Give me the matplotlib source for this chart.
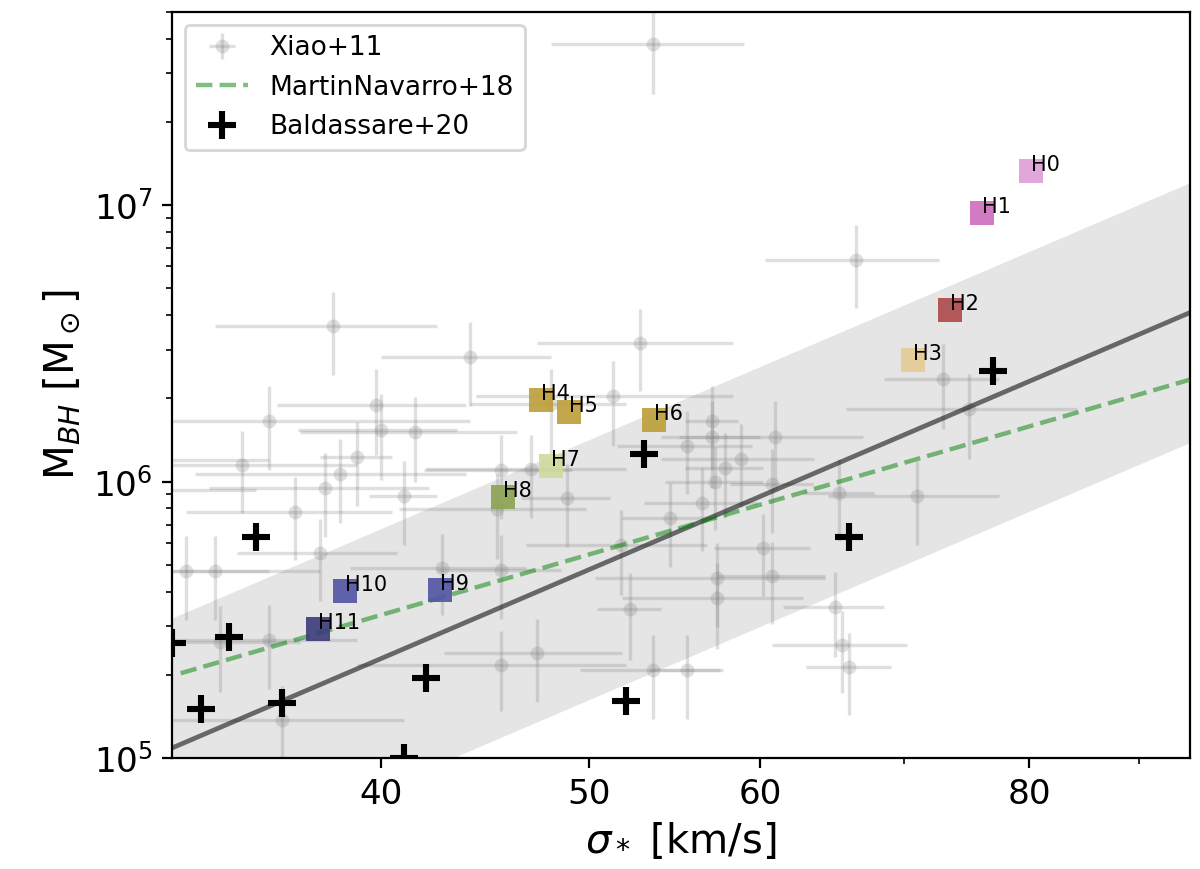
import matplotlib
matplotlib.use("Agg")
import matplotlib.pyplot as plt
import numpy as np
from matplotlib.ticker import ScalarFormatter, NullFormatter

# Xiao+11 (sigma, sigma error, M_BH, M_BH error)
xiao_sigma = [53.5, 66.5, 38.0, 35.5, 39.8, 40.0, 41.5, 34.5, 39.0, 38.3,
              37.7, 41.0, 36.5, 44.0, 52.8, 51.3, 48.0, 45.5, 47.0, 48.8,
              45.3, 51.7, 57.0, 57.0, 61.0, 55.5, 58.8, 57.8, 57.2, 60.8,
              56.4, 54.5, 65.3, 71.0, 73.0, 75.0, 65.0, 65.5, 66.0, 60.2,
              57.3, 60.8, 57.3, 52.2, 53.5, 55.5, 42.7, 45.5, 45.5, 47.3,
              32.5, 33.5, 37.5, 35.5, 33.7, 36.0, 31.0, 31.0]
xiao_sigma_err = [5.5, 6.2, 4.5, 8.5, 4.0, 3.4, 4.8, 4.5, 1.5, 5.5,
                  4.4, 1.5, 4.0, 4.0, 5.5, 7.0, 4.0, 3.6, 5.0, 2.3,
                  4.5, 5.0, 1.6, 3.0, 6.0, 4.0, 4.8, 2.4, 3.0, 2.7,
                  3.4, 2.7, 2.5, 6.5, 4.5, 9.2, 3.5, 4.7, 3.0, 3.1,
                  7.0, 3.5, 5.5, 1.8, 4.0, 2.2, 4.0, 3.0, 6.5, 4.5,
                  3.0, 4.0, 3.2, 3.5, 3.0, 5.0, 4.0, 4.5]
xiao_mbh = [3.82e7, 6.34e6, 3.64e6, 1.66e6, 1.90e6, 1.54e6, 1.51e6, 1.15e6, 1.23e6, 1.07e6,
            9.5e5, 8.9e5, 7.8e5, 2.82e6, 3.17e6, 2.04e6, 1.91e6, 1.10e6, 1.11e6, 8.7e5,
            7.95e5, 5.9e5, 1.66e6, 1.45e6, 1.45e6, 1.35e6, 1.21e6, 1.12e6, 1.0e6, 9.8e5,
            8.4e5, 7.4e5, 9.1e5, 8.9e5, 2.35e6, 1.83e6, 3.53e5, 2.57e5, 2.13e5, 5.75e5,
            4.48e5, 4.56e5, 3.79e5, 3.46e5, 2.09e5, 2.09e5, 4.89e5, 4.8e5, 2.18e5, 2.4e5,
            4.77e5, 4.77e5, 5.5e5, 2.68e5, 2.64e5, 1.375e5, 9.3e5, 1.2e6]
xiao_mbh_err = [1.3e7, 2.1e6, 1.2e6, 5.6e5, 6.5e5, 5.3e5, 5.1e5, 3.8e5, 4.1e5, 3.6e5,
                3.2e5, 3.0e5, 2.6e5, 9.5e5, 1.05e6, 6.9e5, 6.5e5, 3.7e5, 3.7e5, 2.9e5,
                2.7e5, 2.0e5, 5.6e5, 5.0e5, 5.0e5, 4.5e5, 4.0e5, 3.8e5, 3.3e5, 3.3e5,
                2.8e5, 2.5e5, 3.0e5, 3.0e5, 8.0e5, 6.2e5, 1.2e5, 8.5e4, 7.0e4, 1.9e5,
                1.5e5, 1.5e5, 1.3e5, 1.2e5, 7.0e4, 7.0e4, 1.6e5, 1.6e5, 7.0e4, 8.0e4,
                1.6e5, 1.6e5, 1.8e5, 9.0e4, 9.0e4, 4.5e4, 3.1e5, 4.0e5]

# Baldassare+20
bald_sigma = [32, 33, 34, 35, 36, 41, 42, 52, 53, 66, 77]
bald_mbh = [2.62e5, 1.51e5, 2.75e5, 6.3e5, 1.59e5, 1.0e5, 1.95e5, 1.61e5, 1.26e6, 6.3e5, 2.52e6]

# simulated haloes
halo_names = ["H0", "H1", "H2", "H3", "H4", "H5", "H6", "H7", "H8", "H9", "H10", "H11"]
halo_sigma = [80.2, 76.1, 73.5, 70.7, 47.5, 48.9, 53.6, 48.0, 45.6, 42.6, 38.5, 37.4]
halo_mbh = [1.33e7, 9.35e6, 4.18e6, 2.76e6, 1.98e6, 1.79e6, 1.67e6, 1.14e6, 8.79e5, 4.06e5, 4.04e5, 2.93e5]
halo_colors = ["#de9ed6", "#ce6dbd", "#ad494a", "#e7cb94", "#bd9e39", "#bd9e39",
               "#bd9e39", "#cedb9c", "#8ca252", "#5254a3", "#5254a3", "#393b79"]

# relations: log M = a + b log sigma
fit_a, fit_b, fit_scatter = 0.025, 3.33, 0.47
mn18_a, mn18_b = 1.889, 2.265

fig, ax = plt.subplots(figsize=(6, 4.345), dpi=200)
fig.subplots_adjust(left=0.1433, right=0.9914, bottom=0.1274, top=0.9865)

s = np.linspace(32, 95, 200)
logm = fit_a + fit_b * np.log10(s)
ax.fill_between(s, 10 ** (logm - fit_scatter), 10 ** (logm + fit_scatter),
                color="gray", alpha=0.2, lw=0, zorder=0)

h_xiao = ax.errorbar(xiao_sigma, xiao_mbh, xerr=xiao_sigma_err, yerr=xiao_mbh_err,
                     fmt="o", color="gray", alpha=0.25, ms=5, mew=0, elinewidth=1.2,
                     capsize=0, label="Xiao+11", zorder=1)

ax.plot(s, 10 ** logm, color="k", alpha=0.55, lw=1.7, zorder=2)

s2 = np.linspace(32.3, 95, 200)
h_mn, = ax.plot(s2, 10 ** (mn18_a + mn18_b * np.log10(s2)), "--", color="g", alpha=0.5,
                lw=1.6, label="MartinNavarro+18", zorder=3)

h_bald, = ax.plot(bald_sigma, bald_mbh, "+", color="k", ms=10, mew=2.2, ls="none",
                  label="Baldassare+20", zorder=4)

for name, sx, my, c in zip(halo_names, halo_sigma, halo_mbh, halo_colors):
    ax.plot(sx, my, "s", color=c, ms=8.4, mew=0, alpha=0.9, zorder=5)
    ax.text(sx, my, name, fontsize=7.5, zorder=6)

ax.set_xscale("log")
ax.set_yscale("log")
ax.set_xlim(32, 95)
ax.set_ylim(1e5, 5e7)
ax.set_xticks([40, 50, 60, 80])
ax.xaxis.set_major_formatter(ScalarFormatter())
ax.xaxis.set_minor_formatter(NullFormatter())
ax.tick_params(labelsize=12.3)

ax.set_xlabel(r"$\sigma_*$ [km/s]", fontsize=14.5)
ax.set_ylabel(r"M$_{BH}$ [M$_\odot$]", fontsize=14.5)
ax.legend([h_xiao, h_mn, h_bald], ["Xiao+11", "MartinNavarro+18", "Baldassare+20"],
          loc="upper left", fontsize=9.5)

fig.savefig("out.png", dpi=200)
